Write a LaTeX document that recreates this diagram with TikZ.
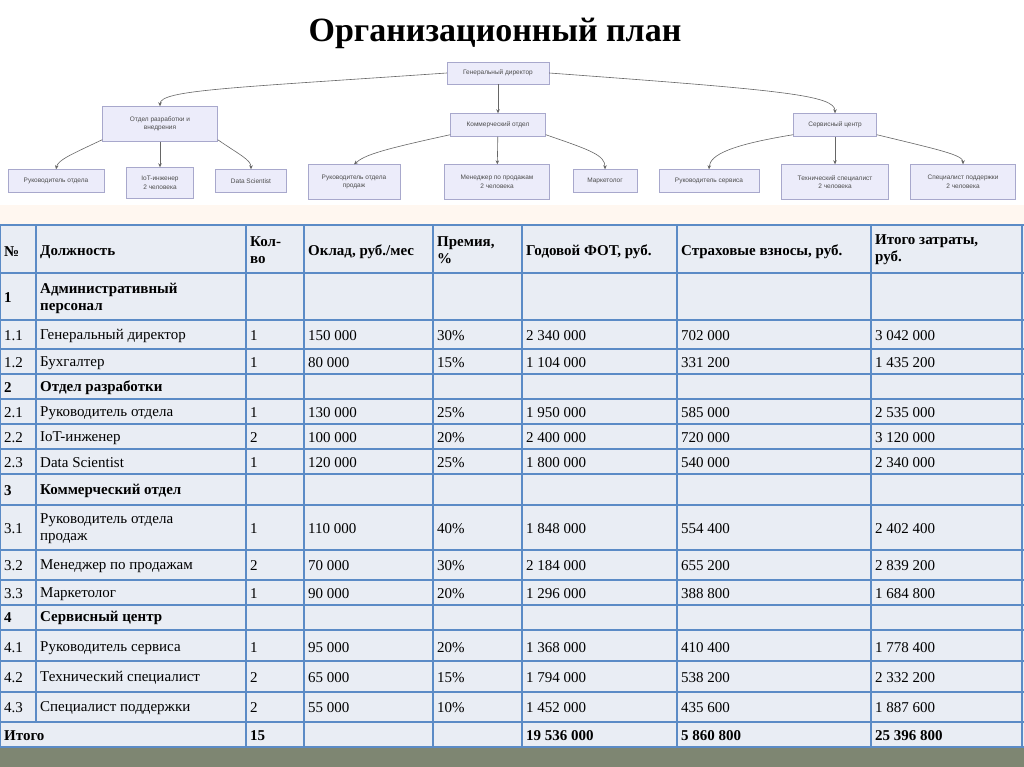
\documentclass[tikz,border=0pt]{standalone}
\usepackage{fontspec}
\setmainfont{Liberation Serif}
\newfontfamily\orgf{Liberation Sans}
\usetikzlibrary{arrows.meta}
\definecolor{tbl}{HTML}{E9EDF4}
\definecolor{tline}{HTML}{5B8BC6}
\definecolor{obox}{HTML}{ECECFA}
\definecolor{oline}{HTML}{A8A8CC}
\definecolor{ground}{HTML}{7E8672}
\tikzset{
  org/.style={draw=oline,fill=obox,font=\orgf\fontsize{6.5}{8.5}\selectfont,text=black!70,align=center,inner sep=2pt},
  oarr/.style={draw=black!60,line width=0.6pt,-{Stealth[length=4pt,width=3.5pt]}},
  cell/.style={anchor=west,inner sep=0pt,align=left,font=\fontsize{15}{17}\selectfont},
  bcell/.style={cell,font=\bfseries\fontsize{15}{17}\selectfont},
}
\newcommand{\trow}[9]{%
  \node[cell] (n#1) at (4,#2) {#3};
  \node[cell] (p#1) at (40,#2) {#4};
  \node[cell] (q#1) at (250,#2) {#5};
  \node[cell] (s#1) at (308,#2) {#6};
  \node[cell] (b#1) at (437,#2) {#7};
  \node[cell] (f#1) at (526,#2) {#8};
  \node[cell] (i#1) at (681,#2) {#9};
}
\begin{document}
\begin{tikzpicture}[x=1pt,y=-1pt]
\useasboundingbox (0,0) rectangle (1024,767);
\fill[white] (0,0) rectangle (1024,767);
\fill[orange!6] (0,205) rectangle (1024,225);
\fill[ground] (0,747) rectangle (1024,767);
\node[font=\bfseries\fontsize{34}{40}\selectfont] (title) at (495,33) {Организационный план};
% org chart
\node[org,minimum width=102,minimum height=22] (gd) at (498,73) {Генеральный директор};
\node[org,minimum width=115,minimum height=35] (dev) at (160,124) {Отдел разработки и\\внедрения};
\node[org,minimum width=95,minimum height=23] (com) at (498,125) {Коммерческий отдел};
\node[org,minimum width=83,minimum height=23] (srv) at (835,125) {Сервисный центр};
\node[org,minimum width=96,minimum height=23] (r1) at (56,181) {Руководитель отдела};
\node[org,minimum width=67,minimum height=31] (r2) at (160,183) {IoT-инженер\\2 человека};
\node[org,minimum width=71,minimum height=23] (r3) at (251,181) {Data Scientist};
\node[org,minimum width=92,minimum height=35] (r4) at (354,182) {Руководитель отдела\\продаж};
\node[org,minimum width=105,minimum height=35] (r5) at (497,182) {Менеджер по продажам\\2 человека};
\node[org,minimum width=64,minimum height=23] (r6) at (605,181) {Маркетолог};
\node[org,minimum width=100,minimum height=23] (r7) at (709,181) {Руководитель сервиса};
\node[org,minimum width=107,minimum height=35] (r8) at (835,182) {Технический специалист\\2 человека};
\node[org,minimum width=105,minimum height=35] (r9) at (963,182) {Специалист поддержки\\2 человека};
\draw[oarr] (gd.west) .. controls (230,88) and (160,90) .. (dev.north);
\draw[oarr] (gd) -- (com);
\draw[oarr] (gd.east) .. controls (780,90) and (835,95) .. (srv.north);
\draw[oarr] (dev.south west) ++(0,-2) .. controls (70,155) and (58,160) .. (r1.north);
\draw[oarr] (dev.south) -- (r2.north);
\draw[oarr] (dev.south east) ++(0,-2) .. controls (240,155) and (251,160) .. (r3.north);
\draw[oarr] (com.south west) ++(0,-2) .. controls (380,150) and (365,155) .. (r4.north);
\draw[oarr] (com) -- (r5);
\draw[oarr] (com.south east) ++(0,-2) .. controls (590,150) and (605,155) .. (r6.north);
\draw[oarr] (srv.south west) ++(0,-2) .. controls (730,145) and (710,155) .. (r7.north);
\draw[oarr] (srv) -- (r8);
\draw[oarr] (srv.south east) ++(0,-2) .. controls (940,150) and (963,155) .. (r9.north);
% table
\fill[tbl] (0,225) rectangle (1024,747);
\foreach \y in {225,273,320,349,374,399,424,449,474,505,550,580,605,630,661,692,722,747}
  \draw[tline,line width=1.2pt] (0,\y) -- (1024,\y);
\draw[tline,line width=1.2pt] (36,225) -- (36,722);
\foreach \x in {0,246,304,433,522,677,871,1022}
  \draw[tline,line width=1.2pt] (\x,225) -- (\x,747);
\node[bcell] (h1) at (4,252) {№};
\node[bcell] (h2) at (40,252) {Должность};
\node[bcell] (h3) at (250,250) {Кол-\\во};
\node[bcell] (h4) at (308,252) {Оклад, руб./мес};
\node[bcell] (h5) at (437,250) {Премия,\\\%};
\node[bcell] (h6) at (526,252) {Годовой ФОТ, руб.};
\node[bcell] (h7) at (681,252) {Страховые взносы, руб.};
\node[bcell] (h8) at (875,250) {Итого затраты,\\руб.};
\node[bcell] (g1n) at (4,298) {1};
\node[bcell] (g1) at (40,298) {Административный\\персонал};
\node[bcell] (g2n) at (4,388) {2};
\node[bcell] (g2) at (40,388) {Отдел разработки};
\node[bcell] (g3n) at (4,491) {3};
\node[bcell] (g3) at (40,491) {Коммерческий отдел};
\node[bcell] (g4n) at (4,618) {4};
\node[bcell] (g4) at (40,618) {Сервисный центр};
\trow{a}{336}{1.1}{Генеральный директор}{1}{150 000}{30\%}{2 340 000}{702 000}
\node[cell] (ta) at (875,336) {3 042 000};
\trow{b}{363}{1.2}{Бухгалтер}{1}{80 000}{15\%}{1 104 000}{331 200}
\node[cell] (tb) at (875,363) {1 435 200};
\trow{c}{413}{2.1}{Руководитель отдела}{1}{130 000}{25\%}{1 950 000}{585 000}
\node[cell] (tc) at (875,413) {2 535 000};
\trow{d}{438}{2.2}{IoT-инженер}{2}{100 000}{20\%}{2 400 000}{720 000}
\node[cell] (td) at (875,438) {3 120 000};
\trow{e}{463}{2.3}{Data Scientist}{1}{120 000}{25\%}{1 800 000}{540 000}
\node[cell] (te) at (875,463) {2 340 000};
\trow{f}{529}{3.1}{Руководитель отдела\\продаж}{1}{110 000}{40\%}{1 848 000}{554 400}
\node[cell] (tf) at (875,529) {2 402 400};
\trow{g}{566}{3.2}{Менеджер по продажам}{2}{70 000}{30\%}{2 184 000}{655 200}
\node[cell] (tg) at (875,566) {2 839 200};
\trow{h}{594}{3.3}{Маркетолог}{1}{90 000}{20\%}{1 296 000}{388 800}
\node[cell] (th) at (875,594) {1 684 800};
\trow{i}{648}{4.1}{Руководитель сервиса}{1}{95 000}{20\%}{1 368 000}{410 400}
\node[cell] (ti) at (875,648) {1 778 400};
\trow{j}{678}{4.2}{Технический специалист}{2}{65 000}{15\%}{1 794 000}{538 200}
\node[cell] (tj) at (875,678) {2 332 200};
\trow{k}{708}{4.3}{Специалист поддержки}{2}{55 000}{10\%}{1 452 000}{435 600}
\node[cell] (tk) at (875,708) {1 887 600};
\node[bcell] (it) at (4,736) {Итого};
\node[bcell] (iq) at (250,736) {15};
\node[bcell] (if) at (526,736) {19 536 000};
\node[bcell] (ii) at (681,736) {5 860 800};
\node[bcell] (itt) at (875,736) {25 396 800};
\end{tikzpicture}
\end{document}
